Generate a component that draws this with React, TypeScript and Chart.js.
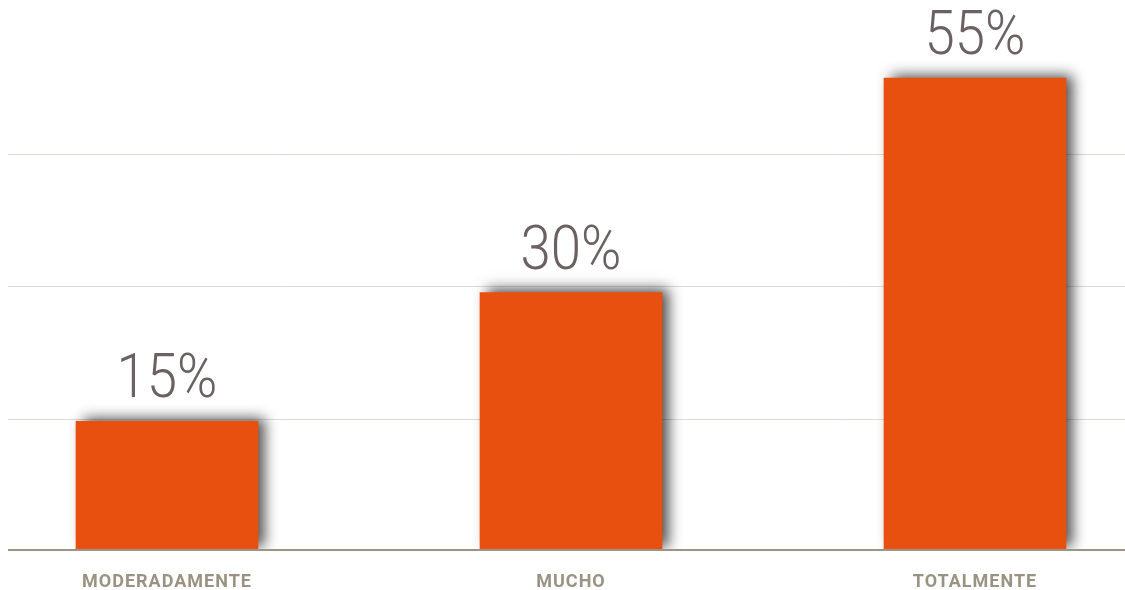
import React, { useEffect, useRef } from "react";
import { Chart, registerables } from "chart.js";

Chart.register(...registerables);

const CATEGORIES = ["MODERADAMENTE", "MUCHO", "TOTALMENTE"];
const VALUES = [15, 30, 55];
const VALUE_LABELS = ["15%", "30%", "55%"];
const GRID_TICKS = [0, 15.2, 30.7, 46.1];
const Y_MAX = 62;

const shadowPlugin = {
  id: "barShadow",
  beforeDatasetsDraw(chart: any) {
    const ctx = chart.ctx;
    ctx.save();
    ctx.shadowColor = "rgba(0,0,0,0.7)";
    ctx.shadowBlur = 13;
    ctx.shadowOffsetX = 7;
    ctx.shadowOffsetY = -3;
  },
  afterDatasetsDraw(chart: any) {
    chart.ctx.restore();
  },
};

const spacingPlugin = {
  id: "letterSpacing",
  beforeDraw(chart: any) {
    chart.ctx.letterSpacing = "1px";
  },
};

const labelPlugin = {
  id: "valueLabels",
  afterDraw(chart: any) {
    const ctx = chart.ctx;
    const meta = chart.getDatasetMeta(0);
    meta.data.forEach((bar: any, i: number) => {
      ctx.save();
      ctx.letterSpacing = "0px";
      ctx.font = "300 62px Roboto";
      ctx.fillStyle = "#6b6161";
      ctx.textAlign = "center";
      ctx.textBaseline = "alphabetic";
      ctx.translate(bar.x, bar.y - 24);
      ctx.scale(0.88, 1);
      ctx.fillText(VALUE_LABELS[i], 0, 0);
      ctx.restore();
    });
  },
};

export default function App() {
  const ref = useRef<HTMLCanvasElement | null>(null);
  useEffect(() => {
    if (!ref.current) return;
    document.body.style.marginRight = "0px";
    const chart = new Chart(ref.current, {
      type: "bar",
      data: {
        datasets: [
          {
            data: VALUES.map((v, i) => ({ x: i, y: v })),
            backgroundColor: "#e8500f",
            borderWidth: 0,
            barThickness: 182,
          },
        ],
      },
      options: {
        animation: false,
        responsive: true,
        maintainAspectRatio: false,
        layout: { padding: { top: 10, left: 0, right: 0, bottom: 0 } },
        plugins: {
          legend: { display: false },
          tooltip: { enabled: false },
        },
        scales: {
          x: {
            type: "linear",
            offset: false,
            bounds: "data",
            min: -0.3936,
            max: 2.3713,
            afterBuildTicks: (scale: any) => {
              scale.ticks = CATEGORIES.map((_, i) => ({ value: i }));
            },
            afterFit: (scale: any) => {
              scale.height = 40;
              scale.paddingLeft = 0;
              scale.paddingRight = 0;
            },
            ticks: {
              autoSkip: false,
              maxRotation: 0,
              padding: 22,
              color: "#9a9282",
              font: { family: "Roboto", weight: "bold", size: 18 },
              callback: (v: any) => CATEGORIES[v],
            },
            grid: { display: false, drawTicks: false, offset: false },
            border: { display: true, color: "#9c9484", width: 2, z: 1 },
          },
          y: {
            min: 0,
            max: Y_MAX,
            afterBuildTicks: (scale: any) => {
              scale.ticks = GRID_TICKS.map((v) => ({ value: v }));
            },
            ticks: { display: false },
            grid: { color: "#dedad6", lineWidth: 1, drawTicks: false },
            border: { display: false },
          },
        },
      },
      plugins: [spacingPlugin, shadowPlugin, labelPlugin],
    } as any);
    return () => chart.destroy();
  }, []);
  return (
    <div style={{ width: 1117, height: 582, position: "relative" }}>
      <canvas ref={ref} />
    </div>
  );
}
